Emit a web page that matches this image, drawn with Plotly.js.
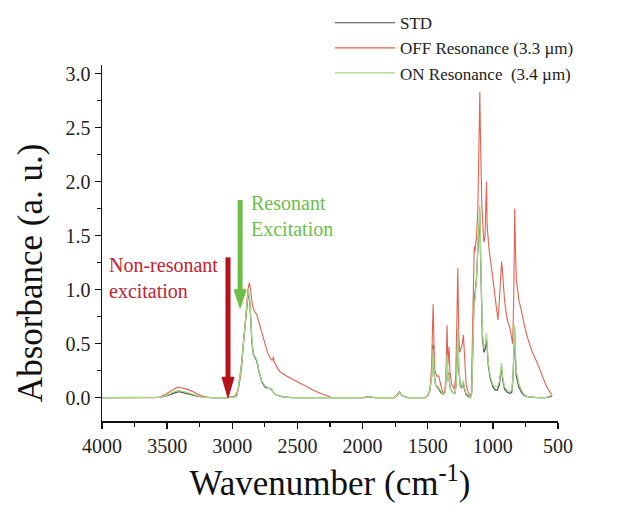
<!DOCTYPE html>
<html>
<head>
<meta charset="utf-8">
<script src="https://cdn.plot.ly/plotly-3.0.1.min.js"></script>
<style>html,body{margin:0;padding:0;background:#fff;}#chart{width:618px;height:510px;}</style>
</head>
<body>
<div id="chart"></div>
<script>
// ---- Data (wavenumber in cm^-1, absorbance in a.u.) ----
var seriesNames = ["STD", "OFF Resonance (3.3 \u00b5m)", "ON Resonance  (3.4 \u00b5m)"];

var wnStd = [4000,3700,3600,3550,3500,3450,3420,3400,3350,3300,3250,3200,3150,3050,3000,2980,2966,2955,2941,2930,2915,2894,2885,2877,2870,2864,2850,2838,2825,2812,2795,2774,2750,2720,2700,2690,2670,2620,2533,2200,2000,1953,1900,1760,1730,1716,1700,1650,1520,1500,1485,1470,1462,1458,1450,1440,1420,1400,1380,1365,1355,1351,1346,1338,1330,1310,1290,1280,1272,1269,1262,1250,1240,1228,1220,1205,1185,1172,1162,1155,1146,1138,1125,1112,1105,1100,1095,1090,1080,1068,1058,1049,1044,1035,1020,1000,980,965,950,940,933,925,910,889,870,855,845,838,833,828,820,800,780,760,735,650,600,560,545];
var absStd = [0,0,0,0.005,0.02,0.045,0.055,0.054,0.042,0.025,0.01,0.002,0,0,0.003,0.01,0.02,0.08,0.2,0.3,0.5,0.8,0.93,0.97,0.93,0.86,0.52,0.4,0.37,0.34,0.24,0.15,0.1,0.085,0.08,0.06,0.03,0.01,0,0,0,0.01,0,0,0.03,0.055,0.02,0,0,0.02,0.06,0.2,0.4,0.49,0.22,0.12,0.09,0.05,0.03,0.05,0.28,0.43,0.16,0.23,0.1,0.05,0.04,0.15,0.5,0.6,0.28,0.11,0.09,0.15,0.09,0.03,0.01,0,0.05,0.45,0.85,0.95,1.12,1.45,1.65,1.72,1.35,1.12,0.55,0.42,0.46,0.55,0.42,0.3,0.18,0.1,0.07,0.07,0.12,0.22,0.29,0.17,0.08,0.05,0.04,0.05,0.18,0.45,0.62,0.4,0.2,0.1,0.05,0.02,0.01,0,0,0.01,0.02];

var wnOff = [4000,3700,3600,3550,3500,3450,3420,3400,3350,3300,3250,3200,3150,3050,3000,2980,2966,2950,2941,2930,2915,2900,2890,2880,2869,2860,2845,2830,2812,2790,2762,2730,2700,2690,2685,2678,2650,2633,2580,2505,2440,2377,2320,2262,2230,2000,1953,1900,1760,1730,1716,1700,1650,1520,1500,1480,1470,1462,1458,1452,1445,1430,1415,1400,1385,1370,1360,1355,1351,1346,1340,1336,1330,1315,1295,1285,1275,1269,1262,1255,1245,1235,1226,1218,1205,1190,1175,1165,1158,1150,1143,1138,1125,1115,1105,1100,1095,1085,1075,1068,1060,1055,1049,1044,1035,1030,1010,992,975,961,950,940,933,925,910,895,889,870,855,848,840,835,832,827,820,800,787,760,735,700,658,620,590,560,545];
var absOff = [0,0,0,0.01,0.04,0.08,0.096,0.095,0.08,0.055,0.025,0.005,0,0,0.005,0.02,0.04,0.1,0.19,0.25,0.5,0.72,0.9,1.0,1.065,1.0,0.85,0.8,0.77,0.68,0.565,0.42,0.35,0.35,0.38,0.33,0.27,0.24,0.2,0.15,0.11,0.07,0.04,0.01,0,0,0.01,0,0,0.03,0.05,0.02,0,0,0.02,0.08,0.3,0.7,0.865,0.5,0.25,0.2,0.2,0.12,0.05,0.05,0.2,0.5,0.67,0.3,0.4,0.47,0.25,0.12,0.08,0.2,0.8,1.2,0.6,0.42,0.45,0.5,0.58,0.35,0.12,0.05,0.01,0.05,0.6,1.2,1.4,1.35,1.5,1.75,2.6,2.83,2.4,1.8,1.55,1.44,1.5,1.7,2.0,1.6,1.44,1.38,1.2,1.03,0.85,0.72,0.9,1.15,1.26,1.15,0.9,0.76,0.72,0.65,0.52,0.5,0.9,1.6,1.75,1.4,1.1,0.9,0.84,0.68,0.56,0.43,0.32,0.2,0.11,0.05,0.03];

var wnOn = [4000,3700,3600,3550,3500,3450,3420,3400,3350,3300,3250,3200,3150,3050,3000,2980,2966,2955,2941,2930,2915,2894,2885,2877,2870,2864,2850,2838,2825,2812,2795,2774,2750,2720,2700,2690,2670,2620,2533,2200,2000,1953,1900,1760,1730,1716,1700,1650,1520,1500,1485,1470,1462,1458,1450,1440,1420,1400,1380,1365,1355,1351,1346,1338,1330,1310,1290,1280,1272,1269,1262,1250,1240,1228,1220,1205,1185,1172,1162,1155,1146,1138,1125,1112,1105,1100,1095,1090,1080,1068,1058,1049,1044,1035,1020,1000,980,965,950,940,933,925,910,889,870,855,845,838,833,828,820,800,780,760,735,650,600,560,545];
var absOn = [0,0,0,0.005,0.025,0.055,0.065,0.064,0.05,0.03,0.012,0.002,0,0,0.003,0.01,0.015,0.08,0.19,0.3,0.5,0.81,0.95,1.0,0.95,0.88,0.55,0.41,0.38,0.35,0.25,0.16,0.11,0.09,0.085,0.06,0.03,0.01,0,0,0,0.01,0,0,0.03,0.05,0.02,0,0,0.02,0.06,0.18,0.36,0.45,0.2,0.12,0.1,0.06,0.03,0.05,0.25,0.4,0.15,0.22,0.1,0.05,0.04,0.15,0.5,0.63,0.3,0.12,0.1,0.16,0.1,0.04,0.02,0,0.05,0.4,0.81,0.9,1.1,1.5,1.7,1.78,1.4,1.1,0.6,0.45,0.5,0.6,0.45,0.32,0.2,0.12,0.1,0.1,0.15,0.25,0.32,0.2,0.1,0.07,0.06,0.07,0.2,0.5,0.67,0.45,0.25,0.13,0.07,0.03,0.01,0,0,0.02,0.03];

var xTickVals = [4000,3500,3000,2500,2000,1500,1000,500];
var yTickVals = [0,0.5,1.0,1.5,2.0,2.5,3.0];
var yTickText = ["0.0","0.5","1.0","1.5","2.0","2.5","3.0"];

// annotation arrows: wavenumber, tail absorbance, tip absorbance
var arrowWn = [3033, 2940];
var arrowTail = [1.30, 1.83];
var arrowTip = [0.0, 0.83];
var arrowColors = ["#b5121b", "#6cbf45"];
var redLabel = "Non-resonant<br>excitation";
var greenLabel = "Resonant<br>Excitation";

var serif = "Liberation Serif, Times New Roman, Times, serif";

var traces = [
  {x: wnStd, y: absStd, name: seriesNames[0], type: "scatter", mode: "lines",
   line: {color: "#4a4a4a", width: 1.2}},
  {x: wnOff, y: absOff, name: seriesNames[1], type: "scatter", mode: "lines",
   line: {color: "#e5604f", width: 1.1}},
  {x: wnOn, y: absOn, name: seriesNames[2], type: "scatter", mode: "lines",
   line: {color: "#a3d887", width: 1.3}}
];

var shapes = [];
var headHalf = 46, headLen = [0.19, 0.17];
for (var i = 0; i < arrowWn.length; i++) {
  shapes.push({type: "line", xref: "x", yref: "y", x0: arrowWn[i], x1: arrowWn[i],
               y0: arrowTail[i], y1: arrowTip[i] + headLen[i] * 0.9,
               line: {color: arrowColors[i], width: 5}});
  shapes.push({type: "path", xref: "x", yref: "y",
               path: "M" + (arrowWn[i] + headHalf) + "," + (arrowTip[i] + headLen[i]) +
                     " L" + (arrowWn[i] - headHalf) + "," + (arrowTip[i] + headLen[i]) +
                     " L" + arrowWn[i] + "," + arrowTip[i] + " Z",
               fillcolor: arrowColors[i], line: {color: arrowColors[i], width: 1}});
}

var layout = {
  width: 618, height: 510,
  margin: {l: 102, r: 60, t: 65, b: 89, autoexpand: false},
  paper_bgcolor: "#fff", plot_bgcolor: "#fff",
  font: {family: serif, color: "#222"},
  showlegend: true,
  legend: {x: 0.5, xanchor: "left", y: 1.168, yanchor: "top",
           bgcolor: "rgba(0,0,0,0)", font: {family: serif, size: 17, color: "#222"},
           itemwidth: 60, tracegroupgap: 0},
  xaxis: {range: [4000, 500], autorange: false, showgrid: false, zeroline: false,
          showline: true, linecolor: "#111", linewidth: 1.5,
          ticks: "outside", ticklen: 6, tickwidth: 1.3, tickcolor: "#111",
          tickvals: xTickVals, tickfont: {family: serif, size: 20, color: "#222"},
          minor: {dtick: 250, ticks: "outside", ticklen: 4, tickwidth: 1.2, tickcolor: "#111", showgrid: false},
          title: {text: "Wavenumber (cm<sup>-1</sup>)", font: {family: serif, size: 35, color: "#111"}, standoff: 15}},
  yaxis: {range: [-0.215, 3.08], autorange: false, showgrid: false, zeroline: false,
          showline: true, linecolor: "#111", linewidth: 1.5,
          ticks: "outside", ticklen: 6, tickwidth: 1.3, tickcolor: "#111",
          tickvals: yTickVals, ticktext: yTickText, tickfont: {family: serif, size: 20, color: "#222"},
          minor: {dtick: 0.25, ticks: "outside", ticklen: 4, tickwidth: 1.2, tickcolor: "#111", showgrid: false}},
  shapes: shapes,
  annotations: [
    {x: -0.158, y: 0.418, xref: "paper", yref: "paper", xanchor: "center", yanchor: "middle",
     textangle: -90, showarrow: false, text: "Absorbance (a. u.)",
     font: {family: serif, size: 35, color: "#111"}},
    {x: 3960, y: 1.11, xref: "x", yref: "y", xanchor: "left", yanchor: "middle", align: "left",
     showarrow: false, text: redLabel, font: {family: serif, size: 20, color: "#c8202c"}},
    {x: 2870, y: 1.68, xref: "x", yref: "y", xanchor: "left", yanchor: "middle", align: "left",
     showarrow: false, text: greenLabel, font: {family: serif, size: 20, color: "#6cbf4a"}}
  ]
};

Plotly.newPlot("chart", traces, layout, {displayModeBar: false, staticPlot: true});
</script>
</body>
</html>
